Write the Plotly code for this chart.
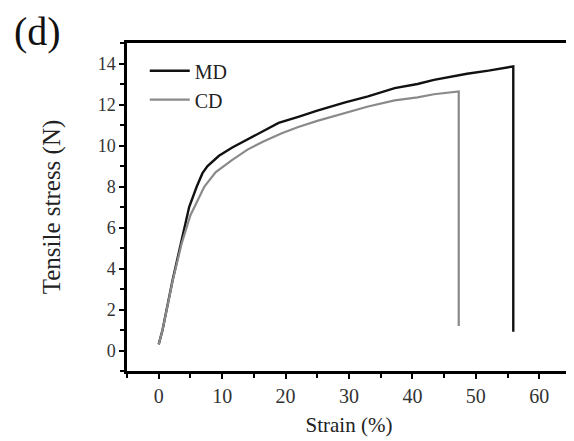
import plotly.graph_objects as go

# values
md_strain = [0, 0.6, 2.2, 3.6, 4.8, 6.0, 6.9, 7.7, 9.5, 11.6, 14.0, 16.3, 18.9, 22.0, 25.0,
             29.4, 33.0, 37.2, 40.8, 43.4, 46.0, 48.6, 52.0, 55.9, 55.9]
md_stress = [0.3, 1.0, 3.45, 5.4, 7.0, 8.0, 8.65, 9.0, 9.5, 9.9, 10.3, 10.7, 11.1, 11.4, 11.7,
             12.1, 12.4, 12.8, 13.0, 13.2, 13.35, 13.5, 13.65, 13.86, 0.92]

cd_strain = [0, 0.6, 2.2, 3.6, 5.0, 6.2, 7.2, 9.0, 11.6, 14.0, 16.5, 19.4, 22.0, 25.0, 29.4,
             33.0, 37.2, 40.8, 43.4, 45.9, 47.3, 47.3]
cd_stress = [0.3, 1.0, 3.4, 5.2, 6.6, 7.4, 8.0, 8.7, 9.3, 9.8, 10.2, 10.6, 10.9, 11.2, 11.6,
             11.9, 12.2, 12.35, 12.5, 12.6, 12.64, 1.2]

FONT = "Liberation Serif, Times New Roman, serif"

fig = go.Figure()
fig.add_trace(go.Scatter(x=md_strain, y=md_stress, mode="lines", name="MD",
                         line=dict(color="#111111", width=2.4)))
fig.add_trace(go.Scatter(x=cd_strain, y=cd_stress, mode="lines", name="CD",
                         line=dict(color="#8a8a8a", width=2.2)))

fig.update_xaxes(range=[-5, 65], tick0=0, dtick=10, ticks="outside", ticklen=5, tickwidth=2,
                 showline=True, linewidth=2.5, linecolor="black", mirror=True, showgrid=False,
                 zeroline=False, automargin=False,
                 tickfont=dict(family=FONT, size=20, color="#333333"),
                 minor=dict(dtick=5, ticks="outside", ticklen=4, tickwidth=2, tickcolor="black"),
                 tickcolor="black",
                 title=dict(text="Strain (%)", font=dict(family=FONT, size=21, color="#222222"),
                            standoff=12))
fig.update_yaxes(range=[-1, 15], tick0=0, dtick=2, ticks="outside", ticklen=5, tickwidth=2,
                 showline=True, linewidth=2.5, linecolor="black", mirror=True, showgrid=False,
                 zeroline=False, automargin=False,
                 tickfont=dict(family=FONT, size=18, color="#333333"),
                 minor=dict(dtick=1, ticks="outside", ticklen=4, tickwidth=2, tickcolor="black"),
                 tickcolor="black",
                 title=dict(text="Tensile stress (N)", font=dict(family=FONT, size=25, color="#222222"),
                            standoff=30))

fig.add_annotation(text="(d)", x=-0.258, y=1.034, xref="paper", yref="paper", showarrow=False,
                   xanchor="left", yanchor="middle",
                   font=dict(family=FONT, size=40, color="#111111"))

# page body keeps an 8px margin, so the figure is 8px smaller on each side
fig.update_layout(
    width=566, height=433,
    margin=dict(l=119, r=3, t=35, b=70),
    plot_bgcolor="white", paper_bgcolor="white",
    legend=dict(x=0.04, y=0.975, xanchor="left", yanchor="top", bgcolor="rgba(0,0,0,0)",
                font=dict(family=FONT, size=20, color="#222222"), tracegroupgap=0,
                itemwidth=40),
)

fig.write_html("out.html")
